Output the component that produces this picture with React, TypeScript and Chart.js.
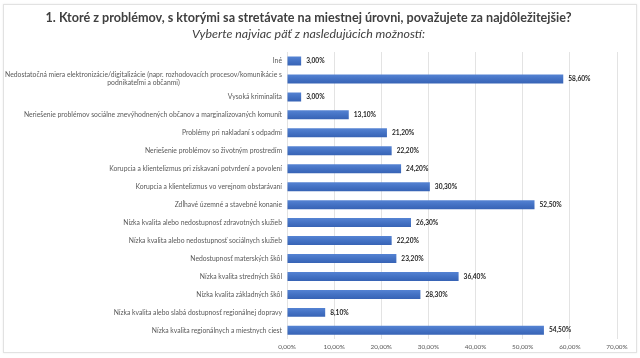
import React, { useEffect, useRef } from "react";
import { Chart, registerables } from "chart.js";

Chart.register(...registerables);

const categories: (string | string[])[] = [
  "Iné",
  [
    "Nedostatočná miera elektronizácie/digitalizácie (napr. rozhodovacích procesov/komunikácie s",
    "podnikateľmi a občanmi)",
  ],
  "Vysoká kriminalita",
  "Neriešenie problémov sociálne znevýhodnených občanov a marginalizovaných komunít",
  "Problémy pri nakladaní s odpadmi",
  "Neriešenie problémov so životným prostredím",
  "Korupcia a klientelizmus pri získavaní potvrdení a povolení",
  "Korupcia a klientelizmus vo verejnom obstarávaní",
  "Zdĺhavé územné a stavebné konanie",
  "Nízka kvalita alebo nedostupnosť zdravotných služieb",
  "Nízka kvalita alebo nedostupnosť sociálnych služieb",
  "Nedostupnosť materských škôl",
  "Nízka kvalita stredných škôl",
  "Nízka kvalita základných škôl",
  "Nízka kvalita alebo slabá dostupnosť regionálnej dopravy",
  "Nízka kvalita regionálnych a miestnych ciest",
];

const values: number[] = [
  3.0, 58.6, 3.0, 13.1, 21.2, 22.2, 24.2, 30.3, 52.5, 26.3, 22.2, 23.2, 36.4, 28.3, 8.1, 54.5,
];

const xTicks: number[] = [0, 10, 20, 30, 40, 50, 60, 70];

const titleText = "1. Ktoré z problémov, s ktorými sa stretávate na miestnej úrovni, považujete za najdôležitejšie?";
const subtitleText = "Vyberte najviac päť z nasledujúcich možností:";

const fmt = (v: number) => v.toFixed(2).replace(".", ",") + "%";

const FONT = "Lato";

const dataLabelPlugin = {
  id: "barValueLabels",
  afterDatasetsDraw(chart: any) {
    const ctx = chart.ctx;
    const meta = chart.getDatasetMeta(0);
    ctx.save();
    ctx.font = `bold 6.6px ${FONT}`;
    ctx.fillStyle = "#262626";
    ctx.textAlign = "left";
    ctx.textBaseline = "middle";
    meta.data.forEach((el: any, i: number) => {
      ctx.fillText(fmt(values[i]), el.x + 5, el.y);
    });
    ctx.restore();
  },
};

// Draws the category labels: right-aligned block, multi-line labels centred within their block
const categoryLabelPlugin = {
  id: "categoryLabels",
  afterDraw(chart: any) {
    const ctx = chart.ctx;
    const yScale = chart.scales.y;
    const right = chart.chartArea.left - 5;
    const lineH = 7.7;
    ctx.save();
    ctx.font = `6.8px ${FONT}`;
    ctx.fillStyle = "#595959";
    ctx.textBaseline = "middle";
    ctx.textAlign = "center";
    categories.forEach((lab, i) => {
      const y = yScale.getPixelForTick(i);
      const lines = Array.isArray(lab) ? lab : [lab];
      const widths = lines.map((l) => ctx.measureText(l).width);
      const maxW = Math.max(...widths);
      const startY = y - ((lines.length - 1) * lineH) / 2;
      lines.forEach((l, k) => {
        ctx.fillText(l, right - maxW / 2, startY + k * lineH);
      });
    });
    ctx.restore();
  },
};

const barFill = (context: any) => {
  const chart = context.chart;
  const yScale = chart.scales?.y;
  if (!yScale || context.dataIndex === undefined) return "#4472C4";
  const yc = yScale.getPixelForValue(context.dataIndex);
  if (!isFinite(yc)) return "#4472C4";
  const g = chart.ctx.createLinearGradient(0, yc - 4.5, 0, yc + 4.5);
  g.addColorStop(0, "#5583d3");
  g.addColorStop(0.5, "#4472C4");
  g.addColorStop(1, "#3763b5");
  return g;
};

export default function App() {
  const ref = useRef<HTMLCanvasElement | null>(null);

  useEffect(() => {
    if (!ref.current) return;
    const chart = new Chart(ref.current, {
      type: "bar",
      data: {
        labels: categories as any,
        datasets: [
          {
            data: values,
            backgroundColor: barFill,
            borderWidth: 0,
            categoryPercentage: 1,
            barPercentage: 0.5,
          },
        ],
      },
      options: {
        indexAxis: "y",
        animation: false,
        responsive: false,
        maintainAspectRatio: false,
        layout: { padding: { left: 0, right: 23, top: 0, bottom: 3 } },
        plugins: {
          legend: { display: false },
          tooltip: { enabled: false },
          title: {
            display: true,
            text: titleText,
            color: "#404040",
            font: { family: FONT, size: 12.6, weight: "bold" },
            padding: { top: 10, bottom: 1 },
          },
          subtitle: {
            display: true,
            text: subtitleText,
            color: "#404040",
            font: { family: FONT, size: 12.4, style: "italic" },
            padding: { top: 0, bottom: 11 },
          },
        },
        scales: {
          x: {
            type: "linear",
            min: 0,
            max: 70,
            afterBuildTicks: (scale: any) => {
              scale.ticks = xTicks.map((v) => ({ value: v }));
            },
            ticks: {
              color: "#595959",
              font: { family: FONT, size: 6.4 },
              padding: 4,
              callback: (v: any) => fmt(Number(v)),
            },
            grid: { color: "#e3e3e3", drawTicks: false },
            border: { display: false },
          },
          y: {
            afterFit: (scale: any) => {
              scale.width = 287;
            },
            ticks: { display: false, autoSkip: false },
            grid: { display: false, drawTicks: false },
            border: { display: false },
          },
        },
      },
      plugins: [dataLabelPlugin, categoryLabelPlugin],
    });
    return () => chart.destroy();
  }, []);

  return (
    <div style={{ position: "fixed", left: 0, top: 0, width: 640, height: 358, background: "#fff" }}>
      <div
        style={{
          position: "absolute",
          left: 3,
          top: 4,
          width: 632,
          height: 347,
          border: "1px solid #e2e2e2",
          boxShadow: "0 0 2px rgba(0,0,0,0.08)",
        }}
      />
      <canvas ref={ref} width={640} height={358} style={{ position: "absolute", left: 0, top: 0 }} />
    </div>
  );
}
